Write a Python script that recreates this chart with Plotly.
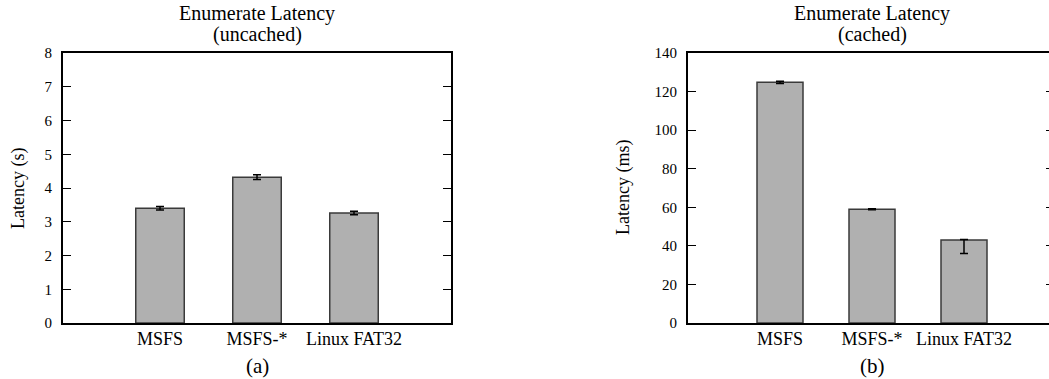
import plotly.graph_objects as go

categories = ["MSFS", "MSFS-*", "Linux FAT32"]
cat_pos = [1, 2, 3]

uncached_values = [3.40, 4.32, 3.26]
uncached_err = [0.05, 0.07, 0.05]

cached_values = [124.8, 59.0, 43.0]
cached_err_plus = [0.6, 0.3, 0.3]
cached_err_minus = [0.6, 0.3, 7.0]

uncached_ticks = [0, 1, 2, 3, 4, 5, 6, 7, 8]
cached_ticks = [0, 20, 40, 60, 80, 100, 120, 140]

W, H = 1049, 379
FONT = "Liberation Serif"
BAR = "#b0b0b0"
EDGE = "#3a3a3a"

def px_x(p):
    return p / W

def px_y(p):
    return (H - p) / H

fig = go.Figure()

fig.add_trace(go.Bar(
    x=cat_pos, y=uncached_values, width=0.5,
    marker=dict(color=BAR, line=dict(color=EDGE, width=1.5)),
    error_y=dict(type="data", array=uncached_err, color="black", thickness=1.5, width=4),
    xaxis="x", yaxis="y", showlegend=False,
))
fig.add_trace(go.Bar(
    x=cat_pos, y=cached_values, width=0.5,
    marker=dict(color=BAR, line=dict(color=EDGE, width=1.5)),
    error_y=dict(type="data", symmetric=False, array=cached_err_plus,
                 arrayminus=cached_err_minus, color="black", thickness=1.5, width=4),
    xaxis="x2", yaxis="y2", showlegend=False,
))
# invisible trace to carry the right-hand tick marks of panel (b)
fig.add_trace(go.Scatter(x=[None], y=[None], xaxis="x2", yaxis="y3",
                         showlegend=False, hoverinfo="skip"))

ydom = [px_y(323), px_y(53)]
tickfont_y = dict(family=FONT, size=15, color="black")
tickfont_x = dict(family=FONT, size=18, color="black")

common = dict(showgrid=False, zeroline=False, automargin=False)

fig.update_layout(
    width=W, height=H, autosize=False,
    margin=dict(l=0, r=0, t=0, b=0, pad=0, autoexpand=False),
    showlegend=False,
    paper_bgcolor="white", plot_bgcolor="white",
    font=dict(family=FONT, color="black"),
    xaxis=dict(domain=[px_x(63), px_x(451)], range=[0, 4], anchor="y",
               tickmode="array", tickvals=cat_pos, ticktext=categories,
               ticks="", showline=True, mirror=True, linecolor="black", linewidth=1.8,
               tickfont=tickfont_x, ticklabelstandoff=-2, **common),
    yaxis=dict(domain=ydom, range=[0, 8], anchor="x",
               tickmode="array", tickvals=uncached_ticks,
               ticks="inside", ticklen=8, tickwidth=1, tickcolor="black",
               showline=True, mirror="ticks", linecolor="black", linewidth=1.8,
               tickfont=tickfont_y, ticklabelstandoff=6, **common),
    xaxis2=dict(domain=[px_x(688), 1.0], range=[0, 4 * (W - 688) / 368], anchor="y2",
                tickmode="array", tickvals=cat_pos, ticktext=categories,
                ticks="", showline=True, mirror=True, linecolor="black", linewidth=1.8,
                tickfont=tickfont_x, ticklabelstandoff=-2, **common),
    yaxis2=dict(domain=ydom, range=[0, 140], anchor="x2",
                tickmode="array", tickvals=cached_ticks,
                ticks="inside", ticklen=8, tickwidth=1, tickcolor="black",
                showline=True, mirror=False, linecolor="black", linewidth=1.8,
                tickfont=tickfont_y, ticklabelstandoff=6, **common),
    yaxis3=dict(domain=ydom, range=[0, 140], anchor="x2", overlaying="y2", side="right",
                tickmode="array", tickvals=cached_ticks[1:-1],
                ticks="inside", ticklen=3, tickwidth=1, tickcolor="black",
                showline=False, showticklabels=False, **common),
)

annotations = [
    dict(text="Enumerate Latency", x=px_x(257), y=px_y(1), yanchor="top", size=20),
    dict(text="(uncached)", x=px_x(257), y=px_y(22), yanchor="top", size=20),
    dict(text="Enumerate Latency", x=px_x(872), y=px_y(1), yanchor="top", size=20),
    dict(text="(cached)", x=px_x(872), y=px_y(22), yanchor="top", size=20),
    dict(text="Latency (s)", x=px_x(18), y=px_y(189), yanchor="middle", textangle=-90, size=18),
    dict(text="Latency (ms)", x=px_x(623), y=px_y(188), yanchor="middle", textangle=-90, size=18),
    dict(text="(a)", x=px_x(257), y=px_y(379), yanchor="bottom", size=21),
    dict(text="(b)", x=px_x(872), y=px_y(379), yanchor="bottom", size=21),
]
for a in annotations:
    size = a.pop("size")
    a.update(xref="paper", yref="paper", xanchor="center",
             showarrow=False, borderpad=0,
             font=dict(family=FONT, size=size, color="black"))
fig.update_layout(annotations=annotations)

fig.write_html("out.html")
